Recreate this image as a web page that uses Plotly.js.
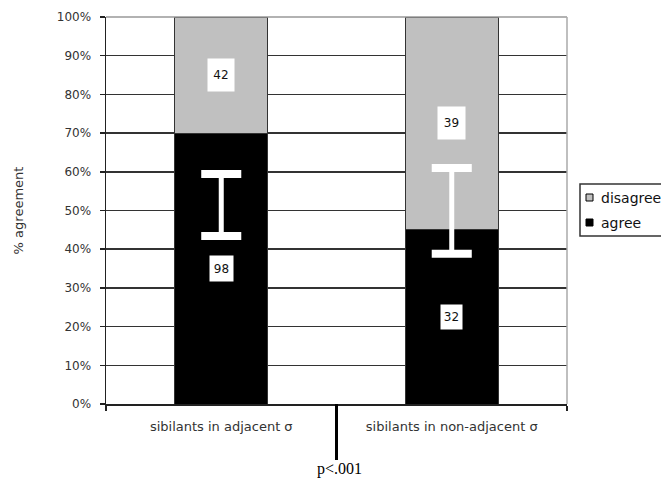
<!DOCTYPE html>
<html><head><meta charset="utf-8">
<script src="https://cdn.plot.ly/plotly-3.0.1.min.js"></script>
<style>html,body{margin:0;padding:0;background:#fff}</style>
</head><body><div id="chart" style="width:661px;height:480px"></div>
<script>
// ---- data ----
const categories = ['sibilants in adjacent σ', 'sibilants in non-adjacent σ'];
const seriesNames = ['agree', 'disagree'];
const agreeCounts = [98, 32];
const disagreeCounts = [42, 39];
const ciLow = [43.4, 38.8];
const ciHigh = [59.4, 61.0];
const yTickVals = [0, 10, 20, 30, 40, 50, 60, 70, 80, 90, 100];
const yTickLabels = ['0%', '10%', '20%', '30%', '40%', '50%', '60%', '70%', '80%', '90%', '100%'];
const yTitle = '% agreement';
const pValueLabel = 'p&lt;.001';

// ---- derived ----
const totals = agreeCounts.map((a, i) => a + disagreeCounts[i]);
const agreePct = agreeCounts.map((a, i) => a / totals[i] * 100);
const disagreePct = disagreeCounts.map((d, i) => d / totals[i] * 100);
const ciMid = ciLow.map((l, i) => (l + ciHigh[i]) / 2);
const ciHalf = ciLow.map((l, i) => (ciHigh[i] - l) / 2);

// ---- layout geometry (pixels) ----
const W = 661, H = 480;
const M = {l: 106, r: 94, t: 17, b: 76};
const PW = W - M.l - M.r, PH = H - M.t - M.b;
const px = x => (x - M.l) / PW;
const py = y => (H - M.b - y) / PH;

const FONT = 'DejaVu Sans, Arial, sans-serif';
const colors = {agree: '#000000', disagree: '#c0c0c0'};

const traces = [
  {type: 'bar', name: seriesNames[0], x: categories, y: agreePct,
   marker: {color: colors.agree, line: {color: '#333', width: 1}}, hoverinfo: 'skip'},
  {type: 'bar', name: seriesNames[1], x: categories, y: disagreePct,
   marker: {color: colors.disagree, line: {color: '#333', width: 1}}, hoverinfo: 'skip'},
  {type: 'scatter', mode: 'markers', x: categories, y: ciMid,
   marker: {size: 1, opacity: 0},
   error_y: {type: 'data', array: ciHalf, visible: true, color: '#ffffff', thickness: 5, width: 0},
   hoverinfo: 'skip'},
  {type: 'scatter', mode: 'markers', x: categories.concat(categories), y: ciLow.concat(ciHigh),
   marker: {symbol: 'line-ew', size: 28.6, color: '#ffffff', line: {color: '#ffffff', width: 8}},
   hoverinfo: 'skip'}
];

// value labels in white boxes
const boxSizes = [[24, 30], [21, 23], [25, 30], [19, 22]];
const annotations = [];
categories.forEach((c, i) => {
  annotations.push({x: c, y: agreePct[i] + disagreePct[i] / 2, text: String(disagreeCounts[i]),
    showarrow: false, bgcolor: '#ffffff', font: {family: FONT, size: 12, color: '#111'},
    width: boxSizes[i * 2][0], height: boxSizes[i * 2][1]});
  annotations.push({x: c, y: agreePct[i] / 2, text: String(agreeCounts[i]),
    showarrow: false, bgcolor: '#ffffff', font: {family: FONT, size: 12, color: '#111'},
    width: boxSizes[i * 2 + 1][0], height: boxSizes[i * 2 + 1][1]});
});
annotations.push({xref: 'paper', yref: 'paper', x: px(339), y: py(458), yanchor: 'top',
  text: pValueLabel, showarrow: false,
  font: {family: 'Liberation Serif, Times New Roman, serif', size: 16, color: '#000'}});
// manual legend (disagree above agree)
annotations.push({xref: 'paper', yref: 'paper', x: px(599), y: py(197.5), xanchor: 'left', yanchor: 'middle',
  text: seriesNames[1], showarrow: false, font: {family: FONT, size: 14, color: '#111'}});
annotations.push({xref: 'paper', yref: 'paper', x: px(599), y: py(222.5), xanchor: 'left', yanchor: 'middle',
  text: seriesNames[0], showarrow: false, font: {family: FONT, size: 14, color: '#111'}});

const shapes = [
  // top and right plot border
  {type: 'line', xref: 'paper', yref: 'paper', x0: 0, x1: 1, y0: 1, y1: 1, line: {color: '#999', width: 1.5}},
  {type: 'line', xref: 'paper', yref: 'paper', x0: 1, x1: 1, y0: 0, y1: 1, line: {color: '#aaa', width: 1.5}},
  // long separator tick between categories
  {type: 'line', xref: 'x', yref: 'paper', x0: 0.5, x1: 0.5, y0: 0, y1: py(460), line: {color: '#000', width: 3}},
  // legend frame and swatches
  {type: 'rect', xref: 'paper', yref: 'paper', x0: px(580), x1: px(700), y0: py(236), y1: py(184),
   line: {color: '#333', width: 1.5}, fillcolor: 'rgba(0,0,0,0)'},
  {type: 'rect', xref: 'paper', yref: 'paper', x0: px(586), x1: px(593), y0: py(201), y1: py(194),
   line: {color: '#000', width: 1}, fillcolor: colors.disagree},
  {type: 'rect', xref: 'paper', yref: 'paper', x0: px(586), x1: px(593), y0: py(226), y1: py(219),
   line: {color: '#000', width: 1}, fillcolor: colors.agree}
];

const layout = {
  width: W, height: H, margin: M,
  paper_bgcolor: '#fff', plot_bgcolor: '#fff',
  barmode: 'stack', bargap: 0.596, showlegend: false,
  font: {family: FONT, color: '#222'},
  xaxis: {type: 'category', showline: true, linecolor: '#222', linewidth: 1.5,
    ticks: 'outside', tickson: 'boundaries', ticklen: 5, tickcolor: '#222', tickwidth: 1.5,
    ticklabelstandoff: 10,
    tickfont: {family: FONT, size: 13, color: '#333'}, showgrid: false, fixedrange: true},
  yaxis: {range: [0, 100], tickmode: 'array', tickvals: yTickVals, ticktext: yTickLabels, showline: true,
    linecolor: '#222', linewidth: 1.5, ticks: 'outside', ticklen: 5, tickcolor: '#222', tickwidth: 1.5,
    ticklabelstandoff: 6,
    tickfont: {family: FONT, size: 12, color: '#333'}, showgrid: true, gridcolor: '#333', gridwidth: 1.5,
    zeroline: false, automargin: false,
    title: {text: yTitle, standoff: 30, font: {family: FONT, size: 13, color: '#333'}}, fixedrange: true},
  annotations: annotations, shapes: shapes
};

Plotly.newPlot('chart', traces, layout, {staticPlot: true, displayModeBar: false});
</script></body></html>
